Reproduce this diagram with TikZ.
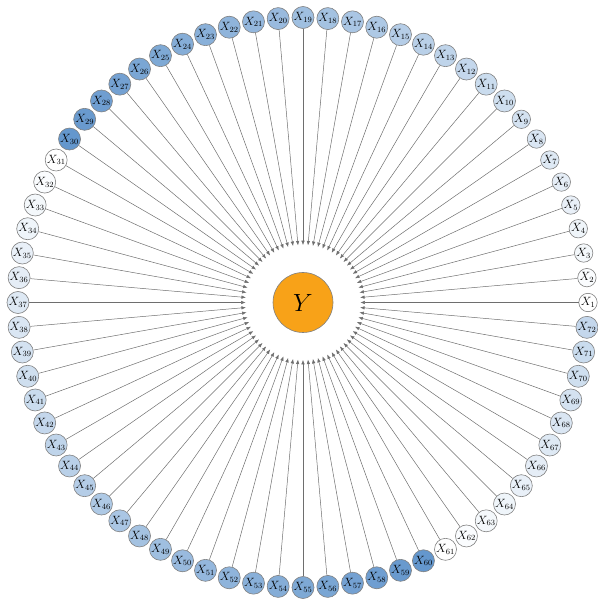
\documentclass[tikz,border=0pt]{standalone}
\usepackage{amsmath}
\usetikzlibrary{arrows.meta}
\definecolor{featblue}{RGB}{100,151,205}
\definecolor{targetorange}{RGB}{248,162,24}
\definecolor{edgegray}{RGB}{110,110,110}

\begin{document}
\begin{tikzpicture}[x=1pt, y=1pt,
    feat/.style={circle, draw=gray, line width=0.6pt, fill=#1, inner sep=0.3pt, font=\fontsize{11.5}{13}\selectfont},
    target/.style={circle, draw=gray, line width=0.6pt, fill=targetorange, minimum size=60pt, inner sep=0pt},
    link/.style={edgegray, line width=0.5pt, -{Latex[length=4.5pt, width=3.5pt]}, shorten >=27pt}]
    \useasboundingbox (-303,-296.5) rectangle (294,302.5);

    % Target in the middle
    \node[target, font=\fontsize{30}{32}\selectfont] (y) at (0,0) {$Y$};

    % Ring of features, shade repeats every 30
    \foreach \k in {1,...,72} {
        \pgfmathtruncatemacro{\idx}{mod(\k-1,30)}
        \pgfmathtruncatemacro{\pct}{round(\idx*100/29)}
        \node[feat=featblue!\pct!white] (x\k) at ({(\k-1)*5}:285pt) {$X_{\k}$};
    }

    % Arrows into Y
    \foreach \k in {1,...,72} {
        \draw[link] (x\k) -- (y);
    }
\end{tikzpicture}
\end{document}
